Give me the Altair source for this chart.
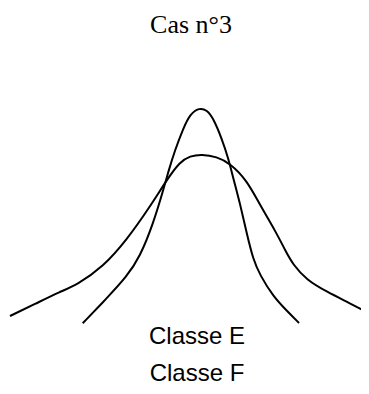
import altair as alt
import pandas as pd

# Curve points (x to the right, y upward from the baseline)
narrow_x = [74.7, 98.7, 118.7, 132, 145.3, 155.3, 160.3, 167, 175.3, 182, 191.3, 199, 205.3, 213.7, 220.3, 225.3, 232, 238.7, 245.3, 252, 265.3, 280, 291]
narrow_y = [6.7, 31.7, 53.3, 73.3, 106.7, 140, 158.3, 180, 201.7, 216, 222.3, 220, 211.7, 191.7, 171.7, 151.7, 126.7, 96.7, 70, 55, 33.3, 18, 7]

wide_x = [2, 27, 52, 68.7, 95.3, 118.7, 142, 158.7, 172, 182, 193.7, 208.7, 222, 238.7, 252, 268.7, 277, 285.3, 298.7, 318.7, 342, 361]
wide_y = [14, 26, 38.3, 45, 63.3, 90, 123.3, 150, 168.3, 174, 175.7, 173.3, 166.7, 150, 125, 96.7, 80, 65, 50, 38.3, 26.7, 16.7]

labels = ["Classe E", "Classe F"]
label_x = [189, 189]
label_y = [-14, -51]

title_text = ["Cas n°3"]
title_x = [183]
title_y = [297]

curves = pd.concat([
    pd.DataFrame({"x": narrow_x, "y": narrow_y, "curve": "narrow"}),
    pd.DataFrame({"x": wide_x, "y": wide_y, "curve": "wide"}),
])
lab_df = pd.DataFrame({"x": label_x, "y": label_y, "t": labels})
tit_df = pd.DataFrame({"x": title_x, "y": title_y, "t": title_text})

xs = alt.Scale(domain=[0, 353], nice=False, zero=False)
ys = alt.Scale(domain=[-56, 322], nice=False, zero=False)

lines = alt.Chart(curves).mark_line(
    color="black", strokeWidth=2, interpolate="basis", clip=True
).encode(
    x=alt.X("x:Q", scale=xs, axis=None),
    y=alt.Y("y:Q", scale=ys, axis=None),
    detail="curve:N",
)

lab = alt.Chart(lab_df).mark_text(
    font="Liberation Sans", fontSize=24, color="black", align="center", baseline="alphabetic"
).encode(
    x=alt.X("x:Q", scale=xs, axis=None),
    y=alt.Y("y:Q", scale=ys, axis=None),
    text="t:N",
)

tit = alt.Chart(tit_df).mark_text(
    font="Liberation Serif", fontSize=26, color="black", align="center", baseline="alphabetic"
).encode(
    x=alt.X("x:Q", scale=xs, axis=None),
    y=alt.Y("y:Q", scale=ys, axis=None),
    text="t:N",
)

chart = alt.layer(lines, lab, tit).properties(
    width=353, height=378, padding=0, autosize=alt.AutoSizeParams(type="none")
).configure(background="white").configure_view(stroke=None)

chart.save("out.html", embed_options={"renderer": "svg", "actions": False})
